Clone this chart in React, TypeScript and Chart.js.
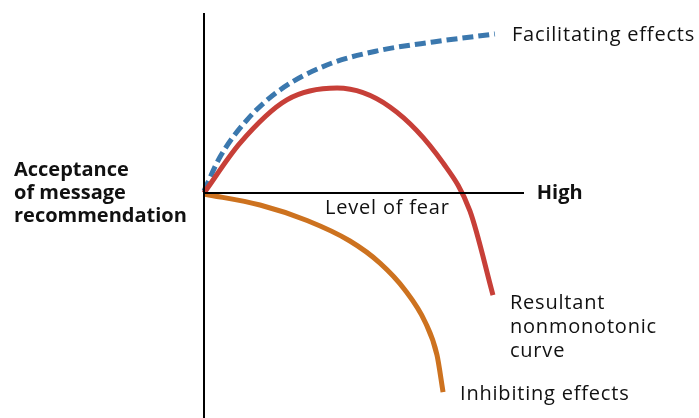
import React, { useEffect, useRef } from "react";
import { Chart, registerables } from "chart.js";

Chart.register(...registerables);

// Level of fear (x) vs acceptance of message recommendation (y), schematic units
const facilitatingX = [0, 5, 13.4, 23.75, 38.4, 54.1, 71.6, 90.9];
const facilitatingY = [0.6, 11.25, 22.8, 32.2, 40, 44.4, 47.2, 49.7];

const resultantX = [0, 11.25, 25.9, 41.6, 58.1, 74.7, 83.1, 90.3];
const resultantY = [0, 15.6, 29.1, 32.8, 26.9, 9.4, -5.6, -31.9];

const inhibitingX = [0, 17.5, 32.2, 45.6, 55, 62.8, 69.1, 72.8, 74.7];
const inhibitingY = [-0.3, -3.75, -8.6, -15, -21.9, -30.3, -40.3, -50.6, -62.2];

const axisXEnd = 100;
const axisYTop = 56.25;
const axisYBottom = -72;

const labelTexts = [
  "Facilitating effects",
  "High",
  "Level of fear",
  "Acceptance",
  "of message",
  "recommendation",
  "Resultant",
  "nonmonotonic",
  "curve",
  "Inhibiting effects",
];

const pts = (xs: number[], ys: number[]) => xs.map((x, i) => ({ x, y: ys[i] }));

const FONT = '"Open Sans", "Noto Sans", sans-serif';

const labelsPlugin = {
  id: "labels",
  afterDatasetsDraw(chart: any) {
    const { ctx, scales } = chart;
    const xs = scales.x;
    const ys = scales.y;
    const px = (v: number) => xs.getPixelForValue(v);
    const py = (v: number) => ys.getPixelForValue(v);
    ctx.save();
    ctx.fillStyle = "#111111";
    ctx.textBaseline = "middle";
    const draw = (t: string, x: number, y: number, bold: boolean) => {
      ctx.font = `${bold ? "bold " : ""}20px ${FONT}`;
      (ctx as any).letterSpacing = bold ? "0px" : "0.8px";
      ctx.textAlign = "left";
      ctx.fillText(t, x, y);
    };
    const oy = py(0);
    draw(labelTexts[0], px(96.25), py(49.2), false);
    draw(labelTexts[1], px(104), oy, true);
    draw(labelTexts[2], px(37.8), oy + 15, false);
    draw(labelTexts[3], 14, oy - 23, true);
    draw(labelTexts[4], 14, oy, true);
    draw(labelTexts[5], 14, oy + 23, true);
    draw(labelTexts[6], px(95.6), py(-34.5), false);
    draw(labelTexts[7], px(95.6), py(-42), false);
    draw(labelTexts[8], px(95.6), py(-49.5), false);
    draw(labelTexts[9], px(80), py(-62.8), false);
    ctx.restore();
  },
};

export default function App() {
  const ref = useRef<HTMLCanvasElement | null>(null);
  useEffect(() => {
    if (!ref.current) return;
    const chart = new Chart(ref.current, {
      type: "line",
      data: {
        datasets: [
          {
            label: "y-axis",
            data: [{ x: 0, y: axisYBottom }, { x: 0, y: axisYTop }],
            borderColor: "#000000",
            borderWidth: 2,
            pointRadius: 0,
          },
          {
            label: "x-axis",
            data: [{ x: 0, y: 0 }, { x: axisXEnd, y: 0 }],
            borderColor: "#000000",
            borderWidth: 2,
            pointRadius: 0,
          },
          {
            label: "Inhibiting effects",
            data: pts(inhibitingX, inhibitingY),
            borderColor: "#cd721f",
            borderWidth: 5,
            pointRadius: 0,
            cubicInterpolationMode: "monotone",
            borderCapStyle: "butt",
          },
          {
            label: "Resultant nonmonotonic curve",
            data: pts(resultantX, resultantY),
            borderColor: "#c73f38",
            borderWidth: 5,
            pointRadius: 0,
            cubicInterpolationMode: "monotone",
            borderCapStyle: "butt",
          },
          {
            label: "Facilitating effects",
            data: pts(facilitatingX, facilitatingY),
            borderColor: "#3b78ae",
            borderWidth: 5,
            borderDash: [11, 5],
            pointRadius: 0,
            cubicInterpolationMode: "monotone",
            borderCapStyle: "butt",
          },
        ],
      },
      options: {
        animation: false,
        responsive: true,
        maintainAspectRatio: false,
        layout: { padding: 0 },
        plugins: { legend: { display: false }, tooltip: { enabled: false } },
        scales: {
          x: { type: "linear", display: false, min: -63.75, max: 154.6875 },
          y: { type: "linear", display: false, min: -70.3125, max: 60.3125 },
        },
      },
      plugins: [labelsPlugin],
    });
    return () => chart.destroy();
  }, []);
  return (
    <div style={{ position: "fixed", left: 0, top: 0, width: 699, height: 418, background: "#fff" }}>
      <canvas ref={ref} />
    </div>
  );
}
